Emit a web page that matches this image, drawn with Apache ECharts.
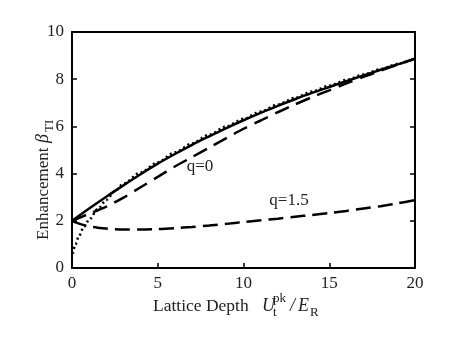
<!DOCTYPE html>
<html><head><meta charset="utf-8">
<script src="https://cdn.jsdelivr.net/npm/echarts@6/dist/echarts.min.js"></script>
<style>html,body{margin:0;padding:0;background:#fff}#c{width:449px;height:346px}</style>
</head><body><div id="c"></div>
<script>
// Data
var xSolid = [0,1,2,3,4,5,6,7,8,9,10,11,12,13,14,15,16,17,18,19,20];
var ySolid = [2.0,2.52,3.02,3.5,3.97,4.42,4.83,5.22,5.58,5.93,6.26,6.57,6.87,7.15,7.42,7.67,7.92,8.16,8.4,8.63,8.87];
var xDotted = [0.05,0.2,0.4,0.7,1,1.5,2,2.5,3,4,5,6,7,8,9,10,11,12,13,14,15,16,17,18,19,20];
var yDotted = [0.6,1.0,1.35,1.75,2.05,2.5,2.88,3.25,3.58,4.05,4.48,4.9,5.28,5.65,6.0,6.32,6.63,6.93,7.21,7.48,7.73,7.97,8.2,8.43,8.65,8.87];
var xQ0 = [0,1,2,3,4,5,6,7,8,9,10,11,12,13,14,15,16,17,18,19,20];
var yQ0 = [2.0,2.3,2.6,2.98,3.42,3.86,4.3,4.7,5.1,5.5,5.9,6.25,6.6,6.93,7.24,7.53,7.82,8.1,8.36,8.62,8.87];
var xQ15 = [0,0.5,1,1.5,2,3,4,5,6,7,8,9,10,11,12,13,14,15,16,17,18,19,20];
var yQ15 = [2.0,1.86,1.77,1.71,1.67,1.63,1.63,1.65,1.69,1.74,1.8,1.87,1.95,2.02,2.09,2.17,2.25,2.33,2.42,2.52,2.62,2.74,2.88];
var xTicks = [0,5,10,15,20];
var yTicks = [0,2,4,6,8,10];

function pairs(xs, ys){ return xs.map(function(x,i){return [x, ys[i]];}); }

var FONT = '"Liberation Serif", "DejaVu Serif", serif';
var chart = echarts.init(document.getElementById('c'));
var axisLine = {show:true, onZero:false, lineStyle:{color:'#000', width:2}};
var lineBase = {color:'#000', width:2.5};

chart.setOption({
  animation:false,
  backgroundColor:'#fff',
  grid:{left:72, right:34, top:32, bottom:78},
  xAxis:[{
    type:'value', min:xTicks[0], max:xTicks[xTicks.length-1], interval:5,
    axisLine:axisLine, axisTick:{show:true, inside:true, length:5, lineStyle:{color:'#000', width:1.5}},
    axisLabel:{color:'#222', fontFamily:FONT, fontSize:17, margin:7},
    splitLine:{show:false}
  },{
    type:'value', position:'top', min:0, max:20, interval:5,
    axisLine:axisLine, axisTick:{show:false}, axisLabel:{show:false}, splitLine:{show:false}
  }],
  yAxis:[{
    type:'value', min:yTicks[0], max:yTicks[yTicks.length-1], interval:2,
    axisLine:axisLine, axisTick:{show:true, inside:true, length:5, lineStyle:{color:'#000', width:1.5}},
    axisLabel:{color:'#222', fontFamily:FONT, fontSize:17, margin:8},
    splitLine:{show:false}
  },{
    type:'value', position:'right', min:0, max:10, interval:2,
    axisLine:axisLine, axisTick:{show:true, inside:true, length:5, lineStyle:{color:'#000', width:1.5}},
    axisLabel:{show:false}, splitLine:{show:false}
  }],
  series:[
    {type:'line', data:pairs(xSolid,ySolid), showSymbol:false, smooth:0.3, lineStyle:Object.assign({type:'solid'}, lineBase)},
    {type:'line', data:pairs(xDotted,yDotted), showSymbol:false, smooth:0.3, smoothMonotone:'x', lineStyle:Object.assign({}, lineBase, {type:[2,3], width:2.5})},
    {type:'line', data:pairs(xQ0,yQ0), showSymbol:false, smooth:0.3, lineStyle:Object.assign({}, lineBase, {type:[15,8]})},
    {type:'line', data:pairs(xQ15,yQ15), showSymbol:false, smooth:0.3, lineStyle:Object.assign({}, lineBase, {type:[15,7]})}
  ],
  graphic:[
    {type:'text', x:200, y:167, style:{text:'q=0', font:'17px '+FONT, fill:'#222', align:'center', verticalAlign:'middle'}},
    {type:'text', x:289, y:201, style:{text:'q=1.5', font:'17px '+FONT, fill:'#222', align:'center', verticalAlign:'middle'}},
    // x-axis title
    {type:'group', x:153, y:315, children:[
      {type:'text', x:0, y:0, style:{text:'Lattice Depth', font:'17.5px '+FONT, fill:'#222', verticalAlign:'bottom'}},
      {type:'text', x:109, y:0, style:{text:'U', font:'italic 18px '+FONT, fill:'#222', verticalAlign:'bottom'}},
      {type:'text', x:120, y:-10, style:{text:'pk', font:'13px '+FONT, fill:'#222', verticalAlign:'bottom'}},
      {type:'text', x:120, y:4, style:{text:'t', font:'13px '+FONT, fill:'#222', verticalAlign:'bottom'}},
      {type:'text', x:137, y:0, style:{text:'/', font:'italic 18px '+FONT, fill:'#222', verticalAlign:'bottom'}},
      {type:'text', x:145, y:0, style:{text:'E', font:'italic 18px '+FONT, fill:'#222', verticalAlign:'bottom'}},
      {type:'text', x:157, y:4, style:{text:'R', font:'13px '+FONT, fill:'#222', verticalAlign:'bottom'}}
    ]},
    // y-axis title
    {type:'group', x:52, y:240, rotation:Math.PI/2, children:[
      {type:'text', x:0, y:0, style:{text:'Enhancement', font:'17px '+FONT, fill:'#222', verticalAlign:'bottom'}},
      {type:'text', x:97, y:0, style:{text:'\u03B2', font:'italic 18px '+FONT, fill:'#222', verticalAlign:'bottom'}},
      {type:'text', x:108, y:4, style:{text:'TI', font:'13px '+FONT, fill:'#222', verticalAlign:'bottom'}}
    ]}
  ]
});
</script></body></html>
